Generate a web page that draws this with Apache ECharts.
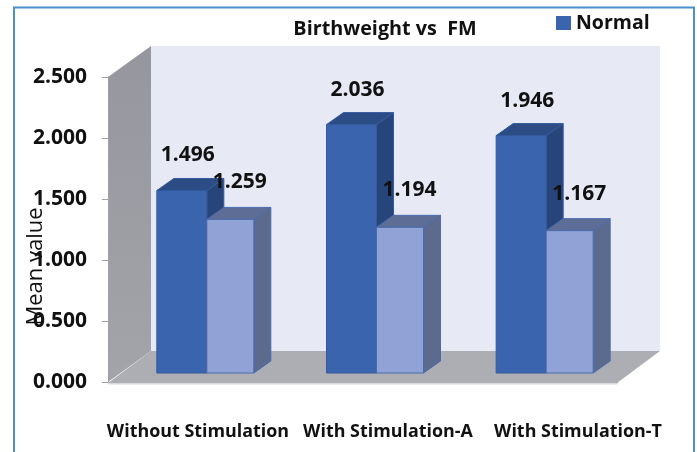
<!DOCTYPE html>
<html>
<head>
<meta charset="utf-8">
<title>Birthweight vs FM</title>
<script src="https://cdn.jsdelivr.net/npm/echarts@6/dist/echarts.min.js"></script>
<style>
html, body { margin: 0; padding: 0; background: #fff; overflow: hidden; }
#chart { width: 697px; height: 452px; }
</style>
</head>
<body>
<div id="chart"></div>
<script>
var categories = ['Without Stimulation', 'With Stimulation-A', 'With Stimulation-T']
var normal = [1.496, 2.036, 1.946]
var second = [1.259, 1.194, 1.167]
var yTicks = { min: 0, max: 2.5, interval: 0.5 }

var font = '"Open Sans"'
// fake 3d: how far the walls and the bars go back
var wallDx = 43
var wallDy = 31
var barDx = 17
var barDy = 12
var barLift = 9

function renderWalls(params) {
  var c = params.coordSys
  var l = c.x
  var r = c.x + c.width
  var t = c.y
  var b = c.y + c.height
  return {
    type: 'group',
    children: [
      { type: 'polygon', shape: { points: [[l + wallDx, t - wallDy], [r + wallDx, t - wallDy], [r + wallDx, b - wallDy], [l + wallDx, b - wallDy]] },
        style: { fill: '#e7e9f5' } },
      { type: 'polygon', shape: { points: [[l, b + 2.5], [r, b + 2.5], [r + 2, b], [r, b], [l, b]] },
        style: { fill: '#d9d9dc' } },
      { type: 'polygon', shape: { points: [[l, b + 1], [r, b + 1], [r + wallDx, b - wallDy], [l + wallDx, b - wallDy]] },
        style: { fill: '#adaeb3' } },
      { type: 'polygon', shape: { points: [[l, t], [l + wallDx, t - wallDy], [l + wallDx, b - wallDy], [l, b]] },
        style: { fill: { type: 'linear', x: 0, y: 0, x2: 0, y2: 1, colorStops: [{ offset: 0, color: '#96969e' }, { offset: 1, color: '#a3a4a9' }] } } }
    ]
  }
}

function barRender(from, to, colors, labelDx, labelDy) {
  return function(params, api) {
    var top = api.coord([api.value(0), api.value(1)])
    var base = api.coord([api.value(0), 0])
    var x0 = top[0] + from
    var x1 = top[0] + to
    var y0 = top[1] - barLift
    var y1 = base[1] - barLift
    return {
      type: 'group',
      children: [
        { type: 'polygon', shape: { points: [[x1, y0], [x1 + barDx, y0 - barDy], [x1 + barDx, y1 - barDy], [x1, y1]] },
          style: { fill: colors.side, stroke: colors.line, lineWidth: 1 } },
        { type: 'polygon', shape: { points: [[x0, y0], [x0 + barDx, y0 - barDy], [x1 + barDx, y0 - barDy], [x1, y0]] },
          style: { fill: colors.top, stroke: colors.line, lineWidth: 1 } },
        { type: 'rect', shape: { x: x0, y: y0, width: x1 - x0, height: y1 - y0 },
          style: { fill: colors.front, stroke: colors.line, lineWidth: 1 } },
        { type: 'text', z2: 100,
          style: { x: (x0 + x1) / 2 + labelDx, y: y0 + labelDy, text: api.value(1).toFixed(3), fill: '#111',
            font: 'bold 21px ' + font, textAlign: 'center', textVerticalAlign: 'middle' } }
      ]
    }
  }
}

var chart = echarts.init(document.getElementById('chart'))
chart.setOption({
  animation: false,
  title: {
    text: 'Birthweight vs  FM',
    left: 380,
    top: 14,
    textAlign: 'center',
    textStyle: { fontFamily: font, fontWeight: 'bold', fontSize: 19.8, color: '#111' }
  },
  legend: {
    data: ['Normal'],
    left: 551,
    top: 8,
    icon: 'rect',
    itemWidth: 15,
    itemHeight: 14,
    itemGap: 6,
    textStyle: { fontFamily: font, fontWeight: 'bold', fontSize: 19.5, color: '#111' }
  },
  grid: [
    { left: 108, right: 80, top: 77, bottom: 70, outerBoundsMode: 'none' },
    // labels sit further apart than the bars in the picture
    { left: 103, right: 24, top: 77, bottom: 70, outerBoundsMode: 'none' }
  ],
  xAxis: [
    { type: 'category', data: categories, gridIndex: 0, axisLine: { show: false }, axisTick: { show: false }, axisLabel: { show: false } },
    { type: 'category', data: categories, gridIndex: 1, axisLine: { show: false }, axisTick: { show: false },
      axisLabel: { margin: 41, interval: 0, fontFamily: font, fontWeight: 'bold', fontSize: 17.9, color: '#111' } }
  ],
  yAxis: [
    {
      type: 'value',
      gridIndex: 0,
      z: 5,
      min: yTicks.min,
      max: yTicks.max,
      interval: yTicks.interval,
      name: 'Mean value',
      nameLocation: 'middle',
      nameGap: 61,
      nameRotate: 90,
      nameMoveOverlap: false,
      nameTextStyle: { fontFamily: font, fontSize: 22, color: '#111', padding: [0, 74, 0, 0] },
      axisLine: { show: true, lineStyle: { color: '#a0a0a4' } },
      axisTick: { show: true, length: 6, lineStyle: { color: '#a0a0a4' } },
      splitLine: { show: false },
      axisLabel: {
        margin: 21,
        fontFamily: font,
        fontWeight: 'bold',
        fontSize: 21,
        color: '#111',
        formatter: function(v) { return v.toFixed(3) }
      }
    },
    { type: 'value', gridIndex: 1, min: yTicks.min, max: yTicks.max, show: false }
  ],
  graphic: [{
    type: 'rect',
    silent: true,
    z: -10,
    shape: { x: 14, y: 7.5, width: 680, height: 470 },
    style: { fill: 'none', stroke: '#4a90cf', lineWidth: 2 }
  }],
  series: [
    {
      name: 'walls',
      type: 'custom',
      z: 1,
      silent: true,
      clip: false,
      renderItem: renderWalls,
      data: [[0, 0]]
    },
    {
      name: 'Normal',
      type: 'custom',
      z: 2,
      clip: false,
      itemStyle: { color: '#3a64ad' },
      renderItem: barRender(-36, 14, { front: '#3a64ad', top: '#2c4c86', side: '#28457b', line: '#34599c' }, 6, -35),
      data: categories.map(function(c, i) { return [i, normal[i]] })
    },
    {
      name: 'Second group',
      type: 'custom',
      z: 3,
      clip: false,
      itemStyle: { color: '#91a2d6' },
      renderItem: barRender(14, 61, { front: '#91a2d6', top: '#5d6d96', side: '#5c6a8e', line: '#4a6cae' }, 9.5, -37),
      data: categories.map(function(c, i) { return [i, second[i]] })
    }
  ]
})
</script>
</body>
</html>
